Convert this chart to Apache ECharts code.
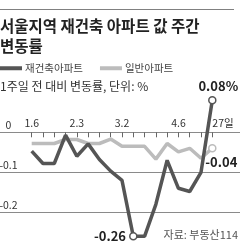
<!DOCTYPE html>
<html>
<head>
<meta charset="utf-8">
<script src="https://cdn.jsdelivr.net/npm/echarts@6/dist/echarts.min.js"></script>
<style>
    html, body {margin: 0; padding: 0; background: #fff;}
    #chart {width: 240px; height: 246px;}
</style>
</head>
<body>
<div id="chart"></div>
<script>
var categories = ['1.6', '1.13', '1.20', '1.27', '2.3', '2.10', '2.17', '2.24', '3.2',
    '3.9', '3.16', '3.23', '3.30', '4.6', '4.13', '4.20', '4.27'];
var xTickLabels = ['1.6', '', '', '', '2.3', '', '', '', '3.2',
    '', '', '', '', '4.6', '', '', '27일'];
var rebuildValues = [-0.047, -0.078, -0.078, -0.007, -0.06, -0.029, -0.068, -0.097, -0.12,
    -0.26, -0.26, -0.18, -0.07, -0.14, -0.148, -0.1, 0.08];
var normalValues = [-0.028, -0.028, -0.028, -0.018, -0.018, -0.028, -0.028, -0.017, -0.035,
    -0.035, -0.035, -0.067, -0.028, -0.049, -0.04, -0.065, -0.04];
var yTicks = [0, -0.1, -0.2];
var yTickLabels = ['0', '-0.1', '-0.2'];

var FONT = '"Noto Sans CJK KR", "Noto Sans", sans-serif';
var DARK = '#555555';
var LIGHT = '#bcbcbc';
var Y_MIN = -0.3, Y_MAX = 0.1;
var GRID_TOP = 92.3, GRID_H = 160;
// 0 위치까지 x축 끌어올림 (onZero 안 먹어서 offset 으로)
var ZERO_OFFSET = -GRID_H * (0 - Y_MIN) / (Y_MAX - Y_MIN);

// 마커 + 라벨 붙일 점
function marked(values, color, labels) {
    return values.map(function (v, i) {
        if (labels[i] === undefined) {
            return v;
        }
        return {
            value: v,
            symbol: 'circle',
            symbolSize: 7,
            itemStyle: {color: '#fff', borderColor: color, borderWidth: 1.5},
            label: labels[i]
        };
    });
}

var bold = {show: true, fontFamily: FONT, fontSize: 13, fontWeight: 'bold', color: '#222'};

var darkLabels = {};
darkLabels[9] = Object.assign({position: 'left', distance: 3, formatter: '-0.26'}, bold);
darkLabels[16] = Object.assign({position: 'top', distance: 3, offset: [6, 0], formatter: '0.08%'}, bold);
var lightLabels = {};
lightLabels[16] = Object.assign({position: 'bottom', distance: 3, offset: [9, 0], formatter: '-0.04'}, bold);

var myChart = echarts.init(document.getElementById('chart'));
myChart.setOption({
    animation: false,
    backgroundColor: '#fff',
    textStyle: {fontFamily: FONT},
    graphic: [{
        type: 'line',
        shape: {x1: 0, y1: 9.5, x2: 234, y2: 9.5},
        style: {stroke: '#808080', lineWidth: 1}
    }],
    title: [{
        text: '서울지역 재건축 아파트 값 주간\n변동률',
        left: 0,
        top: 16,
        padding: 0,
        textStyle: {fontFamily: FONT, fontSize: 15.5, fontWeight: 'bold', color: '#222', lineHeight: 20}
    }, {
        text: '1주일 전 대비 변동률, 단위: %',
        left: 0,
        top: 80,
        padding: 0,
        textStyle: {fontFamily: FONT, fontSize: 12, fontWeight: 'normal', color: '#333'}
    }, {
        text: '자료: 부동산114',
        right: 2,
        top: 229,
        padding: 0,
        textStyle: {fontFamily: FONT, fontSize: 11, fontWeight: 'normal', color: '#555'}
    }],
    legend: {
        data: ['재건축아파트', '일반아파트'],
        left: 0,
        top: 63,
        padding: 0,
        icon: 'rect',
        itemWidth: 22,
        itemHeight: 4,
        itemGap: 17,
        textStyle: {fontFamily: FONT, fontSize: 10.5, color: '#444', padding: [0, 0, 0, -2]}
    },
    grid: [
        {left: 0, right: 0, top: GRID_TOP, height: GRID_H, containLabel: false, outerBoundsMode: 'none'},
        {left: 31.7, right: 27.7, top: GRID_TOP, height: GRID_H, containLabel: false, outerBoundsMode: 'none'}
    ],
    xAxis: [{
        gridIndex: 0,
        type: 'value',
        show: false
    }, {
        gridIndex: 1,
        type: 'category',
        data: categories,
        boundaryGap: false,
        position: 'bottom',
        offset: ZERO_OFFSET,
        axisLine: {show: true, onZero: false, lineStyle: {color: '#8a8a8a', width: 1}},
        axisTick: {show: true, interval: 0, length: 5, lineStyle: {color: '#666'}},
        axisLabel: {
            inside: true,
            interval: 0,
            margin: 4,
            fontFamily: FONT,
            fontSize: 10.5,
            color: '#333',
            alignMaxLabel: 'left',
            formatter: function (v, i) {
                return xTickLabels[i];
            }
        },
        splitLine: {show: false}
    }],
    yAxis: [{
        gridIndex: 0,
        type: 'value',
        min: Y_MIN,
        max: Y_MAX,
        interval: 0.1,
        axisLine: {show: false},
        axisTick: {show: false},
        axisLabel: {
            inside: true,
            margin: 8.5,
            align: 'center',
            verticalAlign: 'bottom',
            padding: [0, 0, 2, 0],
            fontFamily: FONT,
            fontSize: 10.5,
            color: '#333',
            formatter: function (v) {
                for (var k = 0; k < yTicks.length; k++) {
                    if (Math.abs(v - yTicks[k]) < 1e-9) return yTickLabels[k];
                }
                return '';
            }
        },
        splitLine: {
            show: true,
            lineStyle: {color: ['#8a8a8a', '#8a8a8a', '#8a8a8a', '#8a8a8a', 'rgba(0,0,0,0)'], width: 1}
        }
    }, {
        gridIndex: 1,
        type: 'value',
        min: Y_MIN,
        max: Y_MAX,
        interval: 0.1,
        show: false
    }],
    series: [{
        name: '일반아파트',
        type: 'line',
        xAxisIndex: 1,
        yAxisIndex: 1,
        color: LIGHT,
        symbol: 'none',
        z: 2,
        lineStyle: {color: LIGHT, width: 3.5},
        data: marked(normalValues, LIGHT, lightLabels)
    }, {
        name: '재건축아파트',
        type: 'line',
        xAxisIndex: 1,
        yAxisIndex: 1,
        color: DARK,
        symbol: 'none',
        z: 3,
        lineStyle: {color: DARK, width: 3.5},
        data: marked(rebuildValues, DARK, darkLabels)
    }]
});
</script>
</body>
</html>
